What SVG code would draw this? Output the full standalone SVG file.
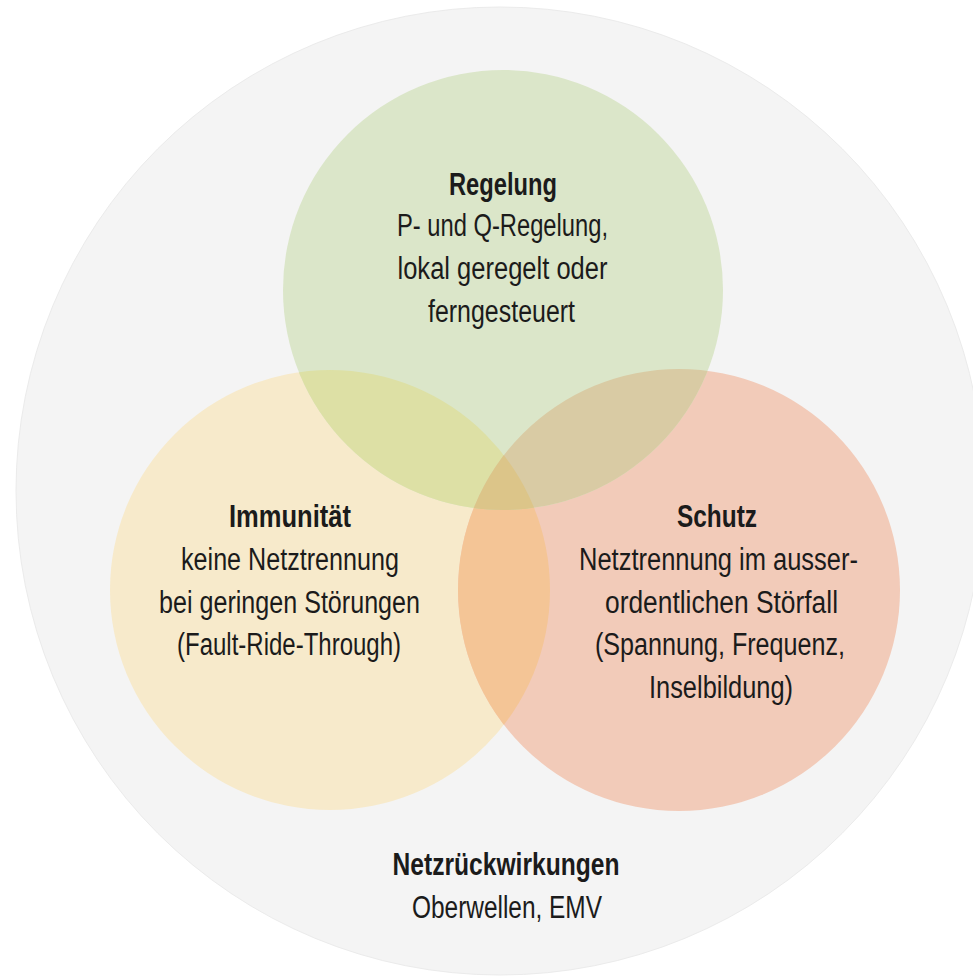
<svg xmlns="http://www.w3.org/2000/svg" width="973" height="976" viewBox="0 0 973 976">
<style>
.t{font-family:"Liberation Sans",Arial,sans-serif;font-size:31px;fill:#1b1b1b;text-anchor:middle}
.b{font-weight:bold}
</style>
<defs>
<clipPath id="cG"><circle cx="503" cy="290" r="220"/></clipPath>
<clipPath id="cY"><circle cx="330" cy="590" r="220"/></clipPath>
<clipPath id="cR"><circle cx="679" cy="590" r="221"/></clipPath>
</defs>
<rect width="973" height="976" fill="#ffffff"/>
<g id="netzrueckwirkungen">
<circle cx="500" cy="491" r="484" fill="#f4f4f4" stroke="#ebebeb" stroke-width="1"/>
<text class="t b" x="506" y="875" textLength="227" lengthAdjust="spacingAndGlyphs">Netzrückwirkungen</text>
<text class="t" x="507" y="918" textLength="190" lengthAdjust="spacingAndGlyphs">Oberwellen, EMV</text>
</g>
<g id="immunitaet">
<circle cx="330" cy="590" r="220" fill="#f7eacb"/>
</g>
<g id="schutz">
<circle cx="679" cy="590" r="221" fill="#f2cbb9"/>
</g>
<g id="regelung">
<circle cx="503" cy="290" r="220" fill="#dbe6c9"/>
</g>
<g id="overlaps">
<g clip-path="url(#cR)"><circle cx="330" cy="590" r="220" fill="#f4c596"/></g>
<g clip-path="url(#cG)"><circle cx="330" cy="590" r="220" fill="#dde0a5"/></g>
<g clip-path="url(#cG)"><circle cx="679" cy="590" r="221" fill="#d9cba4"/></g>
<g clip-path="url(#cG)"><g clip-path="url(#cR)"><circle cx="330" cy="590" r="220" fill="#dcc589"/></g></g>
</g>
<g id="labels">
<text class="t b" x="503" y="195" textLength="108" lengthAdjust="spacingAndGlyphs">Regelung</text>
<text class="t" x="502.5" y="236" textLength="211" lengthAdjust="spacingAndGlyphs">P- und Q-Regelung,</text>
<text class="t" x="502.5" y="279" textLength="210" lengthAdjust="spacingAndGlyphs">lokal geregelt oder</text>
<text class="t" x="501.5" y="322" textLength="147" lengthAdjust="spacingAndGlyphs">ferngesteuert</text>
<text class="t b" x="290" y="527" textLength="122" lengthAdjust="spacingAndGlyphs">Immunität</text>
<text class="t" x="290" y="570" textLength="218" lengthAdjust="spacingAndGlyphs">keine Netztrennung</text>
<text class="t" x="289.5" y="613" textLength="261" lengthAdjust="spacingAndGlyphs">bei geringen Störungen</text>
<text class="t" x="289" y="655" textLength="224" lengthAdjust="spacingAndGlyphs">(Fault-Ride-Through)</text>
<text class="t b" x="717" y="527" textLength="80" lengthAdjust="spacingAndGlyphs">Schutz</text>
<text class="t" x="718.5" y="570" textLength="279" lengthAdjust="spacingAndGlyphs">Netztrennung im ausser-</text>
<text class="t" x="721.5" y="613" textLength="233" lengthAdjust="spacingAndGlyphs">ordentlichen Störfall</text>
<text class="t" x="720" y="655" textLength="250" lengthAdjust="spacingAndGlyphs">(Spannung, Frequenz,</text>
<text class="t" x="721" y="698" textLength="144" lengthAdjust="spacingAndGlyphs">Inselbildung)</text>
</g>
<g id="connectors"/>
</svg>
